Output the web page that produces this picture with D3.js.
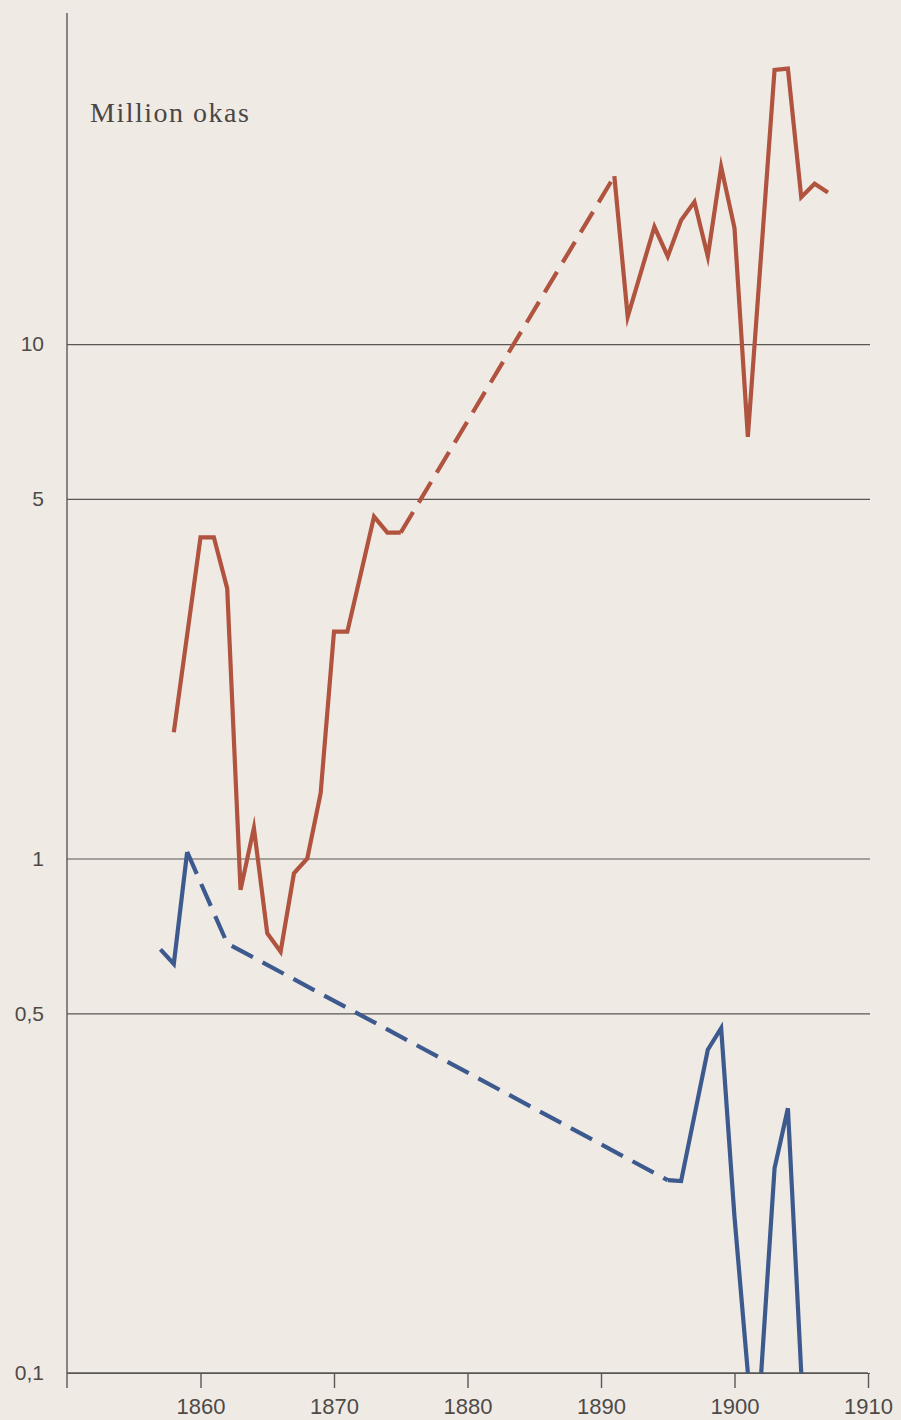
<!doctype html>
<html>
  <head>
    <meta charset="utf-8">
    <script src="https://d3js.org/d3.v7.min.js"></script>
    <style>
      body { margin: 0; background: #f0eae5; }
      svg { display: block; }
    </style>
  </head>
  <body>
    <div id="graphic"></div>
    <script>

// Data (million okas, log scale). 0 = below the 0,1 floor
  var redYears  = [1858, 1860, 1861, 1862, 1863, 1864, 1865, 1866, 1867, 1868, 1869, 1870, 1871, 1873, 1874, 1875,
                   1891, 1892, 1894, 1895, 1896, 1897, 1898, 1899, 1900, 1901, 1903, 1904, 1905, 1906, 1907];
  var redValues = [1.76, 4.21, 4.21, 3.35, 0.869, 1.147, 0.716, 0.659, 0.936, 1.0, 1.34, 2.76, 2.76, 4.62, 4.3, 4.3,
                   21.2, 11.3, 16.9, 14.8, 17.4, 18.9, 14.8, 22.1, 16.8, 6.6, 34.1, 34.3, 19.3, 20.5, 19.7];
  var redDashedFrom = [1875];

  var blueYears  = [1857, 1858, 1859, 1862, 1895, 1896, 1898, 1899, 1900, 1901, 1902, 1903, 1904, 1905];
  var blueValues = [0.666, 0.624, 1.03, 0.684, 0.237, 0.236, 0.425, 0.468, 0.201, 0, 0, 0.25, 0.327, 0];
  var blueDashedFrom = [1859, 1862];

  var yTicks = [0.1, 0.5, 1, 5, 10];
  var xTicks = [1860, 1870, 1880, 1890, 1900, 1910];

  var W = 901, H = 1420;
  var margin = {left: 67, right: 868, top: 13, bottom: 1373};

  var svg = d3.select("#graphic").append("svg")
    .attr("width", W)
    .attr("height", H);

  var x = d3.scaleLinear().domain([1850, 1910]).range([margin.left, margin.right]);
  var y = d3.scaleLog().domain([0.1, 44]).range([margin.bottom, margin.top]);

// Gridlines + y labels
  var yAxis = d3.axisLeft(y)
    .tickValues(yTicks)
    .tickSizeInner(-(margin.right - margin.left + 2))
    .tickSizeOuter(0)
    .tickPadding(23)
    .tickFormat(d => String(d).replace(".", ","));

  var gy = svg.append("g")
    .attr("transform", "translate(" + margin.left + ",0)")
    .call(yAxis);
  gy.select(".domain").remove();
  gy.selectAll("line").attr("stroke", "#5a5654").attr("stroke-width", 1.2);
  gy.selectAll("text")
    .style("font-family", "'Liberation Sans', Arial, sans-serif")
    .style("font-size", "21px")
    .attr("fill", "#4e4a48");

// x axis
  var xAxis = d3.axisBottom(x)
    .tickValues(xTicks)
    .tickSizeInner(15)
    .tickSizeOuter(0)
    .tickPadding(10)
    .tickFormat(d3.format("d"));

  var gx = svg.append("g")
    .attr("transform", "translate(0," + margin.bottom + ")")
    .call(xAxis);
  gx.select(".domain").attr("stroke", "#5a5654").attr("stroke-width", 1.4)
    .attr("d", "M" + margin.left + ",0H" + x(1910));
  gx.selectAll("line").attr("stroke", "#5a5654").attr("stroke-width", 1.4);
  gx.selectAll("text")
    .style("font-family", "'Liberation Sans', Arial, sans-serif")
    .style("font-size", "22px")
    .attr("fill", "#4e4a48");

// y axis line (runs a bit below the x axis)
  svg.append("line")
    .attr("x1", margin.left).attr("x2", margin.left)
    .attr("y1", margin.top).attr("y2", margin.bottom + 15)
    .attr("stroke", "#5a5654")
    .attr("stroke-width", 1.4);

// Unit label
  svg.append("text")
    .attr("x", 90)
    .attr("y", 122)
    .style("font-family", "'Liberation Serif', 'Times New Roman', serif")
    .style("font-size", "28px")
    .style("letter-spacing", "1.5px")
    .attr("fill", "#4a4644")
    .text("Million okas");

// Lines: split into solid / dashed runs, skip segments lying under the floor
  var line = d3.line()
    .x(d => x(d.year))
    .y(d => y(Math.max(d.value, 0.1)));

  function drawSeries(years, values, dashedFrom, color) {
    var pts = years.map((yr, i) => ({year: yr, value: values[i]}));
    var runs = [];
    var cur = null;
    for (var i = 0; i < pts.length - 1; i++) {
      var a = pts[i], b = pts[i + 1];
      if (a.value === 0 && b.value === 0) { cur = null; continue; }
      var dashed = dashedFrom.indexOf(a.year) >= 0;
      if (cur && cur.dashed === dashed) {
        cur.pts.push(b);
      } else {
        cur = {dashed: dashed, pts: [a, b]};
        runs.push(cur);
      }
    }
    svg.append("g")
      .selectAll("path")
      .data(runs)
      .enter()
      .append("path")
      .attr("d", d => line(d.pts))
      .attr("fill", "none")
      .attr("stroke", color)
      .attr("stroke-width", 4.2)
      .attr("stroke-linejoin", "miter")
      .attr("stroke-miterlimit", 6)
      .attr("stroke-dasharray", d => d.dashed ? "24,11" : null);
  }

  drawSeries(redYears, redValues, redDashedFrom, "#b0533f");
  drawSeries(blueYears, blueValues, blueDashedFrom, "#3d5a8e");

    </script>
  </body>
</html>
